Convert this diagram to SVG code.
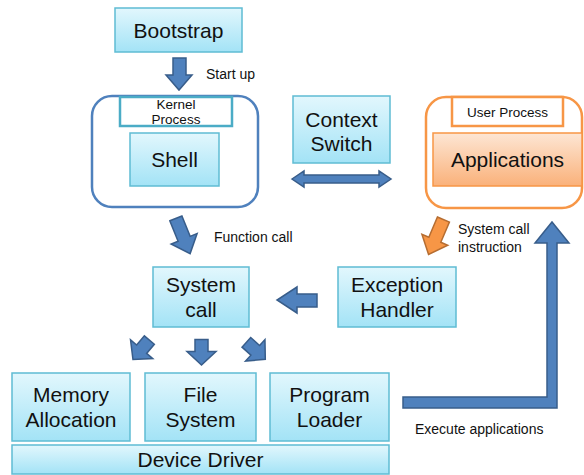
<svg xmlns="http://www.w3.org/2000/svg" width="584" height="475" viewBox="0 0 584 475">
<defs>
<linearGradient id="cy" x1="0" y1="0" x2="0" y2="1">
<stop offset="0" stop-color="#e2f7fd"/>
<stop offset="1" stop-color="#a3e3f6"/>
</linearGradient>
<linearGradient id="or" x1="0" y1="0" x2="0" y2="1">
<stop offset="0" stop-color="#fde6d4"/>
<stop offset="1" stop-color="#fab17a"/>
</linearGradient>
<polygon id="sarrow" points="-6.5,-13 6.5,-13 6.5,-1 14.5,-1 0,12.5 -14.5,-1 -6.5,-1"/>
<polygon id="marrow" points="-6.5,-19 6.5,-19 6.5,3 14,3 0,19 -14,3 -6.5,3"/>
</defs>
<style>
.box{fill:url(#cy);stroke:#5fbcd3;stroke-width:1.5}
.big{font-family:"Liberation Sans",Arial,sans-serif;font-size:21px;fill:#111;text-anchor:middle}
.sm{font-family:"Liberation Sans",Arial,sans-serif;font-size:13.5px;fill:#111}
.lab{font-family:"Liberation Sans",Arial,sans-serif;font-size:14px;fill:#111}
.blue{fill:#4f81bd;stroke:#385d8a;stroke-width:1.5}
.orange{fill:#f79646;stroke:#b66d31;stroke-width:1.5}
</style>

<g id="kernel">
<rect x="92" y="96" width="166" height="111" rx="20" fill="#fff" stroke="#4f81bd" stroke-width="2.5"/>
<rect x="120" y="97" width="112" height="29" fill="#fff" stroke="#4bacc6" stroke-width="2.5"/>
<text class="sm" x="176" y="109" text-anchor="middle">Kernel</text>
<text class="sm" x="176" y="124" text-anchor="middle">Process</text>
</g>
<g id="user">
<rect x="426" y="97" width="156" height="111" rx="20" fill="#fff" stroke="#f79646" stroke-width="2.5"/>
<rect x="452" y="97" width="111" height="29" fill="#fff" stroke="#f79646" stroke-width="2.5"/>
<text class="sm" x="507.5" y="117" text-anchor="middle">User Process</text>
</g>

<g id="bootstrap">
<rect class="box" x="115" y="8" width="127" height="44"/>
<text class="big" x="178.5" y="38">Bootstrap</text>
</g>
<g id="shell">
<rect class="box" x="130" y="133" width="89" height="53"/>
<text class="big" x="174.5" y="167">Shell</text>
</g>
<g id="context">
<rect class="box" x="293" y="96" width="97" height="67"/>
<text class="big" x="341.5" y="127">Context</text>
<text class="big" x="341.5" y="151">Switch</text>
</g>
<g id="applications">
<rect x="433" y="133" width="149" height="53" fill="url(#or)" stroke="#f79646" stroke-width="1.5"/>
<text class="big" x="507.5" y="167">Applications</text>
</g>
<g id="syscall">
<rect class="box" x="153" y="267" width="96" height="60"/>
<text class="big" x="201" y="292">System</text>
<text class="big" x="201" y="317">call</text>
</g>
<g id="exception">
<rect class="box" x="338" y="267" width="118" height="60"/>
<text class="big" x="397" y="292">Exception</text>
<text class="big" x="397" y="317">Handler</text>
</g>
<g id="memory">
<rect class="box" x="12" y="373" width="118" height="68"/>
<text class="big" x="71" y="402">Memory</text>
<text class="big" x="71" y="427">Allocation</text>
</g>
<g id="filesystem">
<rect class="box" x="145" y="373" width="111" height="68"/>
<text class="big" x="200.5" y="402">File</text>
<text class="big" x="200.5" y="427">System</text>
</g>
<g id="loader">
<rect class="box" x="270" y="373" width="119" height="68"/>
<text class="big" x="329.5" y="402">Program</text>
<text class="big" x="329.5" y="427">Loader</text>
</g>
<g id="devicedriver">
<rect class="box" x="12" y="445" width="377" height="29"/>
<text class="big" x="200.5" y="467">Device Driver</text>
</g>

<g id="connectors">
<polygon class="blue" points="173,58 186,58 186,75 192,75 179,90 166,75 173,75"/>
<text class="lab" x="206" y="79">Start up</text>
<polygon class="blue" points="292,179 304,171 304,175 379,175 379,171 391,179 379,187 379,183 304,183 304,187"/>
<use href="#marrow" class="blue" transform="translate(183,236) rotate(-22)"/>
<text class="lab" x="214" y="242">Function call</text>
<use href="#marrow" class="orange" transform="translate(436,237) rotate(23)"/>
<text class="lab" x="458" y="234">System call</text>
<text class="lab" x="458" y="252">instruction</text>
<polygon class="blue" points="317,294 297,294 297,287 277,300 297,313 297,307 317,307"/>
<use href="#sarrow" class="blue" transform="translate(141,350) rotate(40)"/>
<use href="#sarrow" class="blue" transform="translate(201.5,352.5)"/>
<use href="#sarrow" class="blue" transform="translate(256,351) rotate(-48)"/>
<polygon class="blue" points="403,397 547,397 547,243 535,243 552,222 569,243 557,243 557,408 403,408"/>
<text class="lab" x="415" y="434">Execute applications</text>
</g>
</svg>
